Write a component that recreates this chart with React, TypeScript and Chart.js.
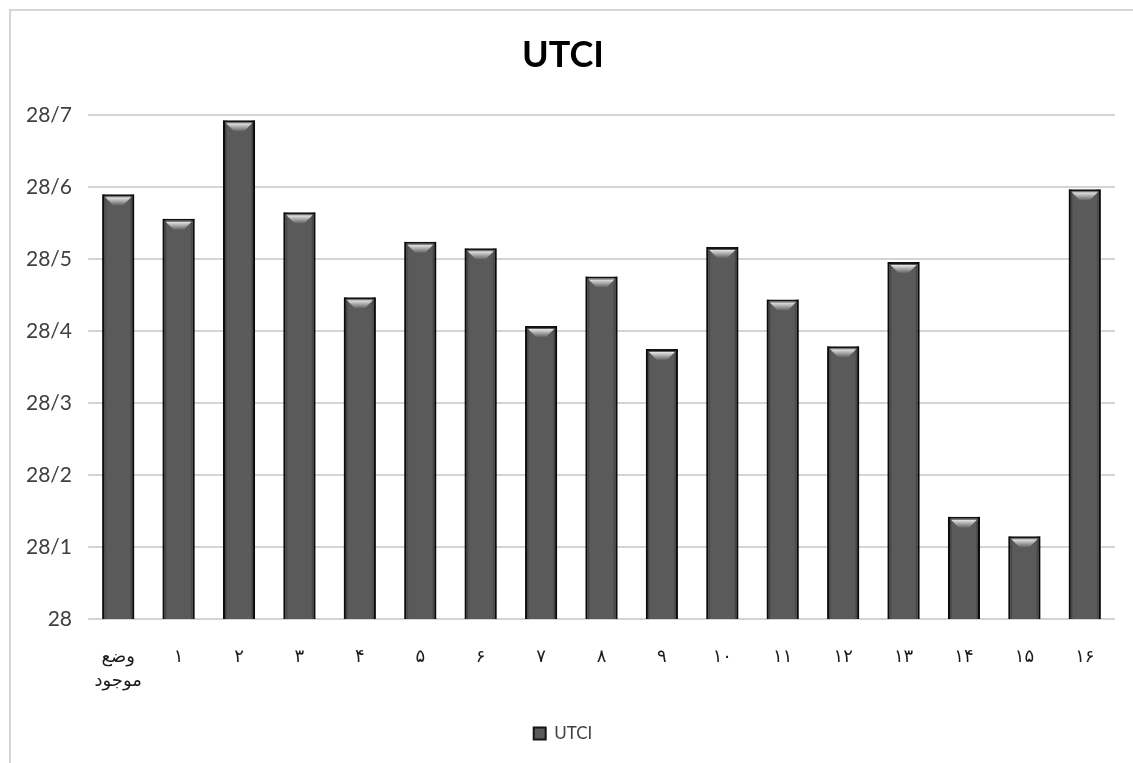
import React, { useEffect, useRef } from "react";
import { Chart, registerables } from "chart.js";

Chart.register(...registerables);

// Scenario labels: existing state followed by scenarios 1–16
const categories: (string | string[])[] = [
  ["وضع", "موجود"],
  "۱", "۲", "۳", "۴", "۵", "۶", "۷", "۸",
  "۹", "۱۰", "۱۱", "۱۲", "۱۳", "۱۴", "۱۵", "۱۶",
];

// UTCI value per scenario
const utciValues = [
  28.59, 28.556, 28.693, 28.565, 28.447, 28.524, 28.515, 28.407, 28.476,
  28.375, 28.517, 28.444, 28.379, 28.496, 28.142, 28.115, 28.597,
];

// Y-axis tick labels (Persian decimal separator)
const yTickLabels = ["28", "28/1", "28/2", "28/3", "28/4", "28/5", "28/6", "28/7"];

const seriesName = "UTCI";
const FONT = "Lato, 'DejaVu Sans', sans-serif";

// Gives the bars a bevelled look: darker side edges and a light top facet
const bevelPlugin = {
  id: "bevel",
  afterDatasetsDraw(chart: any) {
    const ctx: CanvasRenderingContext2D = chart.ctx;
    const meta = chart.getDatasetMeta(0);
    const bottom = chart.scales.y.getPixelForValue(28);
    meta.data.forEach((bar: any) => {
      const x: number = bar.x;
      const y: number = bar.y;
      const width: number = bar.width;
      const left = x - width / 2;
      const right = x + width / 2;
      ctx.save();
      const g = ctx.createLinearGradient(left, 0, right, 0);
      g.addColorStop(0, "rgba(0,0,0,0.6)");
      g.addColorStop(0.14, "rgba(0,0,0,0)");
      g.addColorStop(0.86, "rgba(0,0,0,0)");
      g.addColorStop(1, "rgba(0,0,0,0.6)");
      ctx.fillStyle = g;
      ctx.fillRect(left, y, width, bottom - y);

      const inset = 3;
      const h = 8;
      const hg = ctx.createLinearGradient(0, y + inset, 0, y + inset + h);
      hg.addColorStop(0, "rgba(255,255,255,0.85)");
      hg.addColorStop(1, "rgba(255,255,255,0.05)");
      ctx.fillStyle = hg;
      ctx.beginPath();
      ctx.moveTo(left + inset, y + inset);
      ctx.lineTo(right - inset, y + inset);
      ctx.lineTo(right - inset - 8, y + inset + h);
      ctx.lineTo(left + inset + 8, y + inset + h);
      ctx.closePath();
      ctx.fill();
      ctx.restore();
    });
  },
};

export default function App() {
  const canvasRef = useRef<HTMLCanvasElement | null>(null);

  useEffect(() => {
    if (!canvasRef.current) return;
    const chart = new Chart(canvasRef.current, {
      type: "bar",
      data: {
        labels: categories,
        datasets: [
          {
            label: seriesName,
            data: utciValues,
            backgroundColor: "#5a5a5a",
            borderColor: "#141414",
            borderWidth: 2,
            categoryPercentage: 1,
            barPercentage: 0.53,
          },
        ],
      },
      options: {
        animation: false,
        responsive: false,
        layout: { padding: { left: 0, right: 18, top: 0, bottom: 11 } },
        plugins: {
          title: {
            display: true,
            text: "UTCI",
            color: "#000000",
            font: { family: FONT, size: 36, weight: "bold" },
            padding: { top: 23, bottom: 38 },
          },
          legend: {
            position: "bottom",
            labels: {
              color: "#404040",
              font: { family: FONT, size: 17 },
              boxWidth: 12,
              boxHeight: 12,
              padding: 10,
            },
          },
          tooltip: { enabled: false },
        },
        scales: {
          x: {
            grid: { display: false },
            border: { display: false },
            ticks: {
              color: "#1a1a1a",
              font: { family: FONT, size: 18, lineHeight: 1.35 },
              padding: 17,
              maxRotation: 0,
              autoSkip: false,
            },
            afterFit: (scale: any) => {
              scale.height = 96;
            },
          },
          y: {
            min: 28,
            max: 28.7,
            grid: { color: "#d4d4d4", lineWidth: 2, drawTicks: false },
            border: { display: false },
            ticks: {
              stepSize: 0.1,
              color: "#404040",
              font: { family: FONT, size: 21 },
              padding: 16,
              callback: (_v: any, i: number) => yTickLabels[i],
            },
            afterFit: (scale: any) => {
              scale.width = 77;
            },
          },
        },
      },
      plugins: [bevelPlugin],
    });
    return () => chart.destroy();
  }, []);

  return (
    <div
      style={{
        position: "fixed",
        left: 9,
        top: 9,
        width: 1124,
        height: 754,
        borderTop: "2px solid #d6d6d6",
        borderLeft: "2px solid #d6d6d6",
        boxSizing: "border-box",
        background: "#ffffff",
      }}
    >
      <canvas ref={canvasRef} width={1122} height={752} style={{ display: "block" }} />
    </div>
  );
}
